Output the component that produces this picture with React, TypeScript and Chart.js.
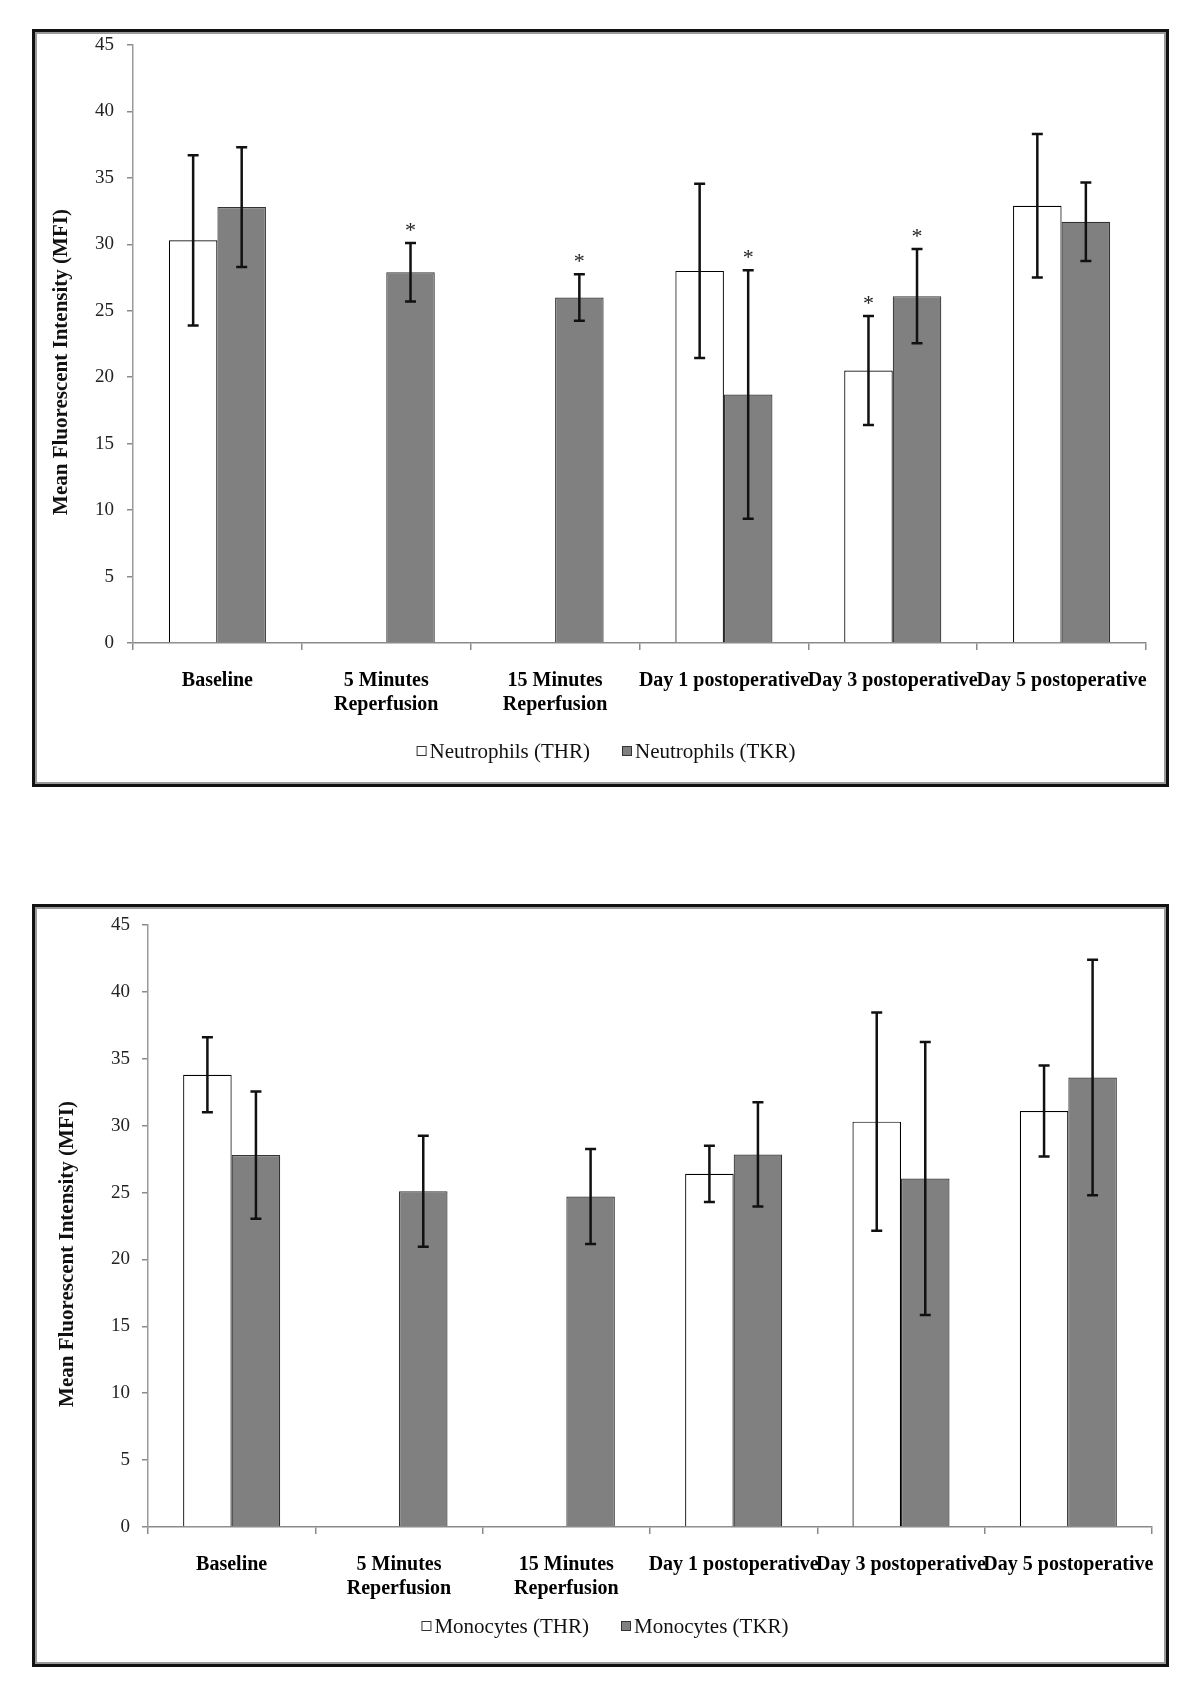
import React, { useEffect, useRef } from 'react';
import { Chart, registerables } from 'chart.js';

Chart.register(...registerables);

const FONT = "'Liberation Serif', 'Times New Roman', Times, serif";

// ---- data ----
const categories: (string | string[])[] = [
  'Baseline',
  ['5 Minutes', 'Reperfusion'],
  ['15 Minutes', 'Reperfusion'],
  'Day 1 postoperative',
  'Day 3 postoperative',
  'Day 5 postoperative',
];
const yMin = 0;
const yMax = 45;
const yStep = 5;
const yTitle = 'Mean Fluorescent Intensity (MFI)';

const neutLabels = ['Neutrophils (THR)', 'Neutrophils (TKR)'];
const neutTHR = [30.3, null, null, 28.0, 20.5, 32.9];
const neutTHRsd = [6.4, null, null, 6.55, 4.1, 5.4];
const neutTHRsig = [false, false, false, false, true, false];
const neutTKR = [32.8, 27.9, 26.0, 18.7, 26.1, 31.7];
const neutTKRsd = [4.5, 2.2, 1.75, 9.35, 3.55, 2.95];
const neutTKRsig = [false, true, true, true, true, false];

const monoLabels = ['Monocytes (THR)', 'Monocytes (TKR)'];
const monoTHR = [33.8, null, null, 26.4, 30.3, 31.1];
const monoTHRsd = [2.8, null, null, 2.1, 8.15, 3.4];
const monoTHRsig = [false, false, false, false, false, false];
const monoTKR = [27.8, 25.1, 24.7, 27.85, 26.05, 33.6];
const monoTKRsd = [4.75, 4.15, 3.55, 3.9, 10.2, 8.8];
const monoTKRsig = [false, false, false, false, false, false];

// ---- plugins ----
const errorBarsPlugin = {
  id: 'errorBars',
  afterDatasetsDraw(chart: any) {
    const ctx = chart.ctx;
    const yScale = chart.scales.y;
    ctx.save();
    chart.data.datasets.forEach((ds: any, di: number) => {
      const meta = chart.getDatasetMeta(di);
      meta.data.forEach((el: any, i: number) => {
        const v = ds.data[i];
        const sd = ds.sd ? ds.sd[i] : null;
        if (v == null || sd == null) return;
        const x = el.x;
        const top = yScale.getPixelForValue(v + sd);
        const bot = yScale.getPixelForValue(v - sd);
        ctx.strokeStyle = '#111';
        ctx.lineWidth = 2.5;
        ctx.beginPath();
        ctx.moveTo(x, top);
        ctx.lineTo(x, bot);
        ctx.moveTo(x - 5.5, top);
        ctx.lineTo(x + 5.5, top);
        ctx.moveTo(x - 5.5, bot);
        ctx.lineTo(x + 5.5, bot);
        ctx.stroke();
        if (ds.sig && ds.sig[i]) {
          ctx.fillStyle = '#222';
          ctx.font = `22px ${FONT}`;
          ctx.textAlign = 'center';
          ctx.textBaseline = 'alphabetic';
          ctx.fillText('*', x, top - 6);
        }
      });
    });
    ctx.restore();
  },
};

const customLegendPlugin = {
  id: 'customLegend',
  afterDraw(chart: any, _args: any, opts: any) {
    const ctx = chart.ctx;
    ctx.save();
    ctx.font = `21px ${FONT}`;
    ctx.textBaseline = 'middle';
    ctx.textAlign = 'left';
    const box = 10;
    const gapText = 3;
    const gapItems = 32;
    const items = chart.data.datasets.map((d: any) => ({
      label: d.label,
      fill: d.backgroundColor,
      w: box + gapText + ctx.measureText(d.label).width,
    }));
    const total = items.reduce((s: number, it: any) => s + it.w, 0) + gapItems * (items.length - 1);
    let x = opts.cx - total / 2;
    const y = opts.y;
    items.forEach((it: any) => {
      ctx.fillStyle = it.fill;
      ctx.fillRect(x, y - box / 2, box, box);
      ctx.strokeStyle = '#333';
      ctx.lineWidth = 1;
      ctx.strokeRect(x + 0.5, y - box / 2 + 0.5, box - 1, box - 1);
      ctx.fillStyle = '#111';
      ctx.fillText(it.label, x + box + gapText, y + 1);
      x += it.w + gapItems;
    });
    ctx.restore();
  },
};

const yTitlePlugin = {
  id: 'yTitleDraw',
  afterDraw(chart: any, _args: any, opts: any) {
    const ctx = chart.ctx;
    ctx.save();
    ctx.translate(opts.x, opts.y);
    ctx.rotate(-Math.PI / 2);
    ctx.font = `bold 21px ${FONT}`;
    ctx.fillStyle = '#111';
    ctx.textAlign = 'center';
    ctx.textBaseline = 'middle';
    ctx.fillText(opts.text, 0, 0);
    ctx.restore();
  },
};

type P = {
  labels: string[];
  thr: (number | null)[];
  thrSd: (number | null)[];
  thrSig: boolean[];
  tkr: (number | null)[];
  tkrSd: (number | null)[];
  tkrSig: boolean[];
  catPct: number;
  pad: { left: number; right: number; top: number; bottom: number };
  yWidth: number;
  yPad: number;
  legend: { cx: number; y: number };
  title: { x: number; y: number };
};

function makeConfig(p: P): any {
  return {
    type: 'bar',
    data: {
      labels: categories,
      datasets: [
        {
          label: p.labels[0],
          data: p.thr,
          sd: p.thrSd,
          sig: p.thrSig,
          backgroundColor: '#ffffff',
          borderColor: '#000000',
          borderWidth: 1.2,
          categoryPercentage: p.catPct,
          barPercentage: 1,
        },
        {
          label: p.labels[1],
          data: p.tkr,
          sd: p.tkrSd,
          sig: p.tkrSig,
          backgroundColor: '#808080',
          borderColor: '#333333',
          borderWidth: 1.2,
          categoryPercentage: p.catPct,
          barPercentage: 1,
        },
      ],
    },
    options: {
      responsive: false,
      animation: false,
      devicePixelRatio: 1,
      layout: { padding: p.pad },
      plugins: {
        legend: { display: false },
        tooltip: { enabled: false },
        customLegend: p.legend,
        yTitleDraw: { ...p.title, text: yTitle },
      },
      scales: {
        x: {
          grid: {
            display: true,
            drawOnChartArea: false,
            drawTicks: true,
            tickLength: 7,
            color: '#8a8a8a',
            lineWidth: 1.5,
            offset: true,
          },
          border: { display: true, color: '#8a8a8a', width: 1.5 },
          ticks: {
            font: { family: FONT, size: 20, weight: 'bold', lineHeight: 1.18 },
            color: '#000',
            padding: 19,
            maxRotation: 0,
            minRotation: 0,
            autoSkip: false,
          },
          afterFit: (s: any) => {
            s.height = 80;
            s.paddingLeft = 0;
            s.paddingRight = 0;
          },
        },
        y: {
          min: yMin,
          max: yMax,
          ticks: {
            stepSize: yStep,
            font: { family: FONT, size: 19 },
            color: '#222',
            padding: p.yPad,
          },
          grid: {
            drawOnChartArea: false,
            drawTicks: true,
            tickLength: 6,
            color: '#8a8a8a',
            lineWidth: 1.5,
          },
          border: { display: true, color: '#9a9a9a', width: 1.5 },
          afterFit: (s: any) => {
            s.width = p.yWidth;
            s.paddingTop = 0;
            s.paddingBottom = 0;
          },
        },
      },
    },
    plugins: [errorBarsPlugin, customLegendPlugin, yTitlePlugin],
  };
}

function ChartBox(props: { cfg: any; left: number; top: number; width: number; height: number }) {
  const ref = useRef<HTMLCanvasElement | null>(null);
  useEffect(() => {
    if (!ref.current) return;
    const chart = new Chart(ref.current, props.cfg);
    return () => chart.destroy();
  }, []);
  const innerW = props.width - 6;
  const innerH = props.height - 6;
  return (
    <div
      style={{
        position: 'absolute',
        left: props.left,
        top: props.top,
        width: props.width,
        height: props.height,
        boxSizing: 'border-box',
        border: '3px solid #111',
        boxShadow: 'inset 0 0 0 2px #9a9a9a',
        background: '#fff',
      }}
    >
      <canvas
        ref={ref}
        width={innerW}
        height={innerH}
        style={{ display: 'block', width: innerW, height: innerH }}
      />
    </div>
  );
}

export default function App() {
  const cfg1 = makeConfig({
    labels: neutLabels,
    thr: neutTHR,
    thrSd: neutTHRsd,
    thrSig: neutTHRsig,
    tkr: neutTKR,
    tkrSd: neutTKRsd,
    tkrSig: neutTKRsig,
    catPct: 0.575,
    pad: { left: 14, right: 20, top: 13, bottom: 752 - 611 - 80 },
    yWidth: 98 - 14,
    yPad: 13,
    legend: { cx: 571, y: 719 },
    title: { x: 27, y: 330 },
  });
  const cfg2 = makeConfig({
    labels: monoLabels,
    thr: monoTHR,
    thrSd: monoTHRsd,
    thrSig: monoTHRsig,
    tkr: monoTKR,
    tkrSd: monoTKRsd,
    tkrSig: monoTKRsig,
    catPct: 0.58,
    pad: { left: 20, right: 14, top: 18, bottom: 757 - 620 - 80 },
    yWidth: 113 - 20,
    yPad: 12,
    legend: { cx: 570, y: 719 },
    title: { x: 33, y: 347 },
  });
  return (
    <div style={{ position: 'relative', width: 1184, height: 1670 }}>
      <ChartBox cfg={cfg1} left={24} top={21} width={1137} height={758} />
      <ChartBox cfg={cfg2} left={24} top={896} width={1137} height={763} />
    </div>
  );
}
